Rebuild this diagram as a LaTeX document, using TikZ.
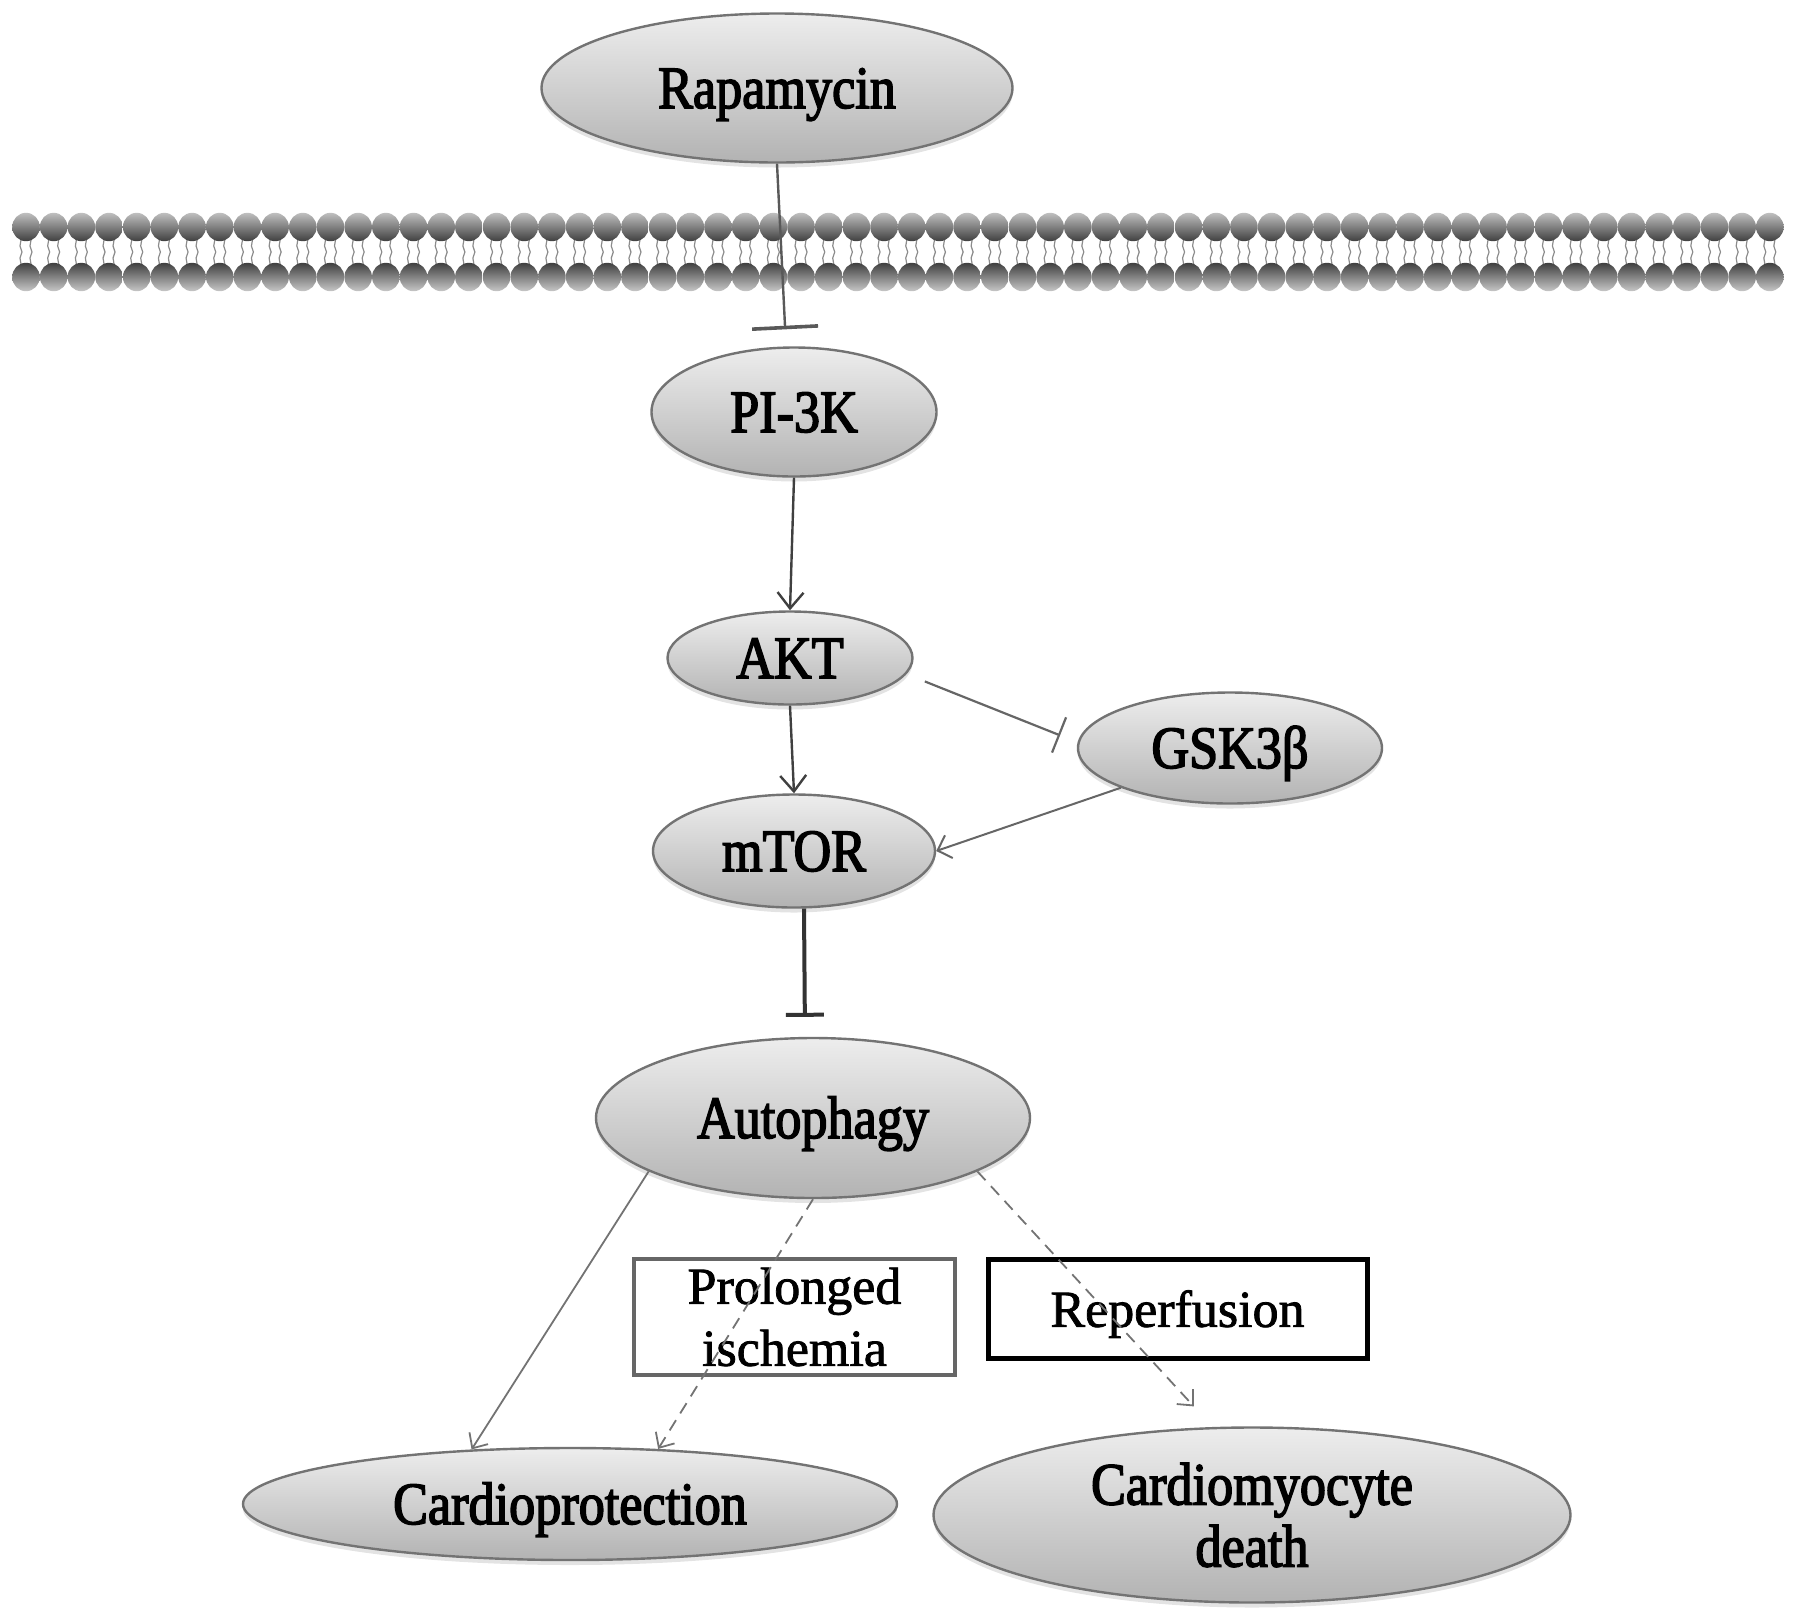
\documentclass[tikz,border=0pt]{standalone}
\usepackage{fontspec}
\setmainfont{Liberation Serif}[FakeBold=1.5]
\newfontfamily\nodefont{Liberation Serif}[FakeStretch=0.87, FakeBold=2.5]
\usetikzlibrary{positioning, calc, arrows.meta, shapes.geometric, shadows}

\tikzset{
	molecule/.style={ellipse, draw=black!55, line width=1.2pt, top color=black!7, bottom color=black!30,
		inner sep=0pt, align=center, text height=20pt, text depth=0pt,
		font=\nodefont\fontsize{30pt}{31pt}\selectfont,
		drop shadow={shadow xshift=0pt, shadow yshift=-2.5pt, opacity=0.22}},
	condition/.style={rectangle, inner sep=0pt, align=center, font=\fontsize{26pt}{31pt}\selectfont},
	activate/.style={draw=black!75, line width=1.2pt, -{Straight Barb[length=8pt, width=13pt]}},
	inhibit/.style={draw=black!65, line width=1.2pt, -{Bar[width=#1]}},
	lead/.style={draw=black!55, line width=0.9pt, -{Straight Barb[length=6pt, width=11pt]}},
	maylead/.style={lead, dash pattern=on 6pt off 4pt}
}

\begin{document}
\begin{tikzpicture}[x=0.5pt, y=-0.5pt]
		\useasboundingbox (0,0) rectangle (1795,1619);
		\foreach \i in {0,...,63} {
			\pgfmathsetmacro{\hx}{26+27.68*\i}
			\draw[black!45, line width=0.6pt] (\hx-5,240) -- (\hx-6,246) -- (\hx-4,252) -- (\hx-6,258) -- (\hx-5,264);
			\draw[black!45, line width=0.6pt] (\hx+5,240) -- (\hx+4,246) -- (\hx+6,252) -- (\hx+4,258) -- (\hx+5,264);
			\shade[top color=black!25, bottom color=black!75] (\hx,227) ellipse [x radius=6.9pt, y radius=7.1pt];
			\shade[top color=black!75, bottom color=black!22] (\hx,277) ellipse [x radius=6.9pt, y radius=7.1pt];
		}
		\node[molecule, minimum width=235.5pt, minimum height=74.5pt] (rapa) at (777,88) {Rapamycin};
		\node[molecule, minimum width=142.5pt, minimum height=64.5pt] (pi3k) at (794,412) {PI-3K};
		\node[molecule, minimum width=122.5pt, minimum height=46.5pt] (akt) at (790,658) {AKT};
		\node[molecule, minimum width=152pt, minimum height=55.5pt] (gsk) at (1230,748) {GSK3β};
		\node[molecule, minimum width=141pt, minimum height=56.5pt] (mtor) at (794,851) {mTOR};
		\node[molecule, minimum width=217pt, minimum height=80pt] (auto) at (813,1118) {Autophagy};
		\node[molecule, minimum width=327pt, minimum height=56pt] (cardio) at (570,1504) {Cardioprotection};
		\node[molecule, minimum width=318.5pt, minimum height=87.5pt, text height={}, text depth={}] (death) at (1252,1515) {Cardiomyocyte\\death};
		\node[condition, draw=black!60, line width=2pt, minimum width=160.5pt, minimum height=58pt] (ischemia) at (794.5,1317) {Prolonged\\ischemia};
		\node[condition, draw=black, line width=2.5pt, minimum width=189.5pt, minimum height=49.5pt, text depth=0pt] (reperf) at (1177.5,1308.5) {Reperfusion};
		\draw[inhibit={33pt, line width=1.8pt}, shorten >=8.5pt] (rapa.south) -- ([shift={(-8,0)}]pi3k.north);
		\draw[activate] (pi3k.south) -- (akt.north);
		\draw[activate] (akt.south) -- (mtor.north);
		\draw[inhibit=19pt, draw=black!60, line width=1.1pt, shorten <=6pt, shorten >=9pt] ([shift={(0,19)}]akt.east) -- ([shift={(0,-6)}]gsk.west);
		\draw[activate, draw=black!60, line width=1pt, -{Straight Barb[length=6pt, width=12pt]}] (gsk.200) -- (mtor.east);
		\draw[inhibit={19pt, line width=2pt}, draw=black!80, line width=2pt, shorten >=10pt] ([shift={(10,0)}]mtor.south) -- ([shift={(-8,0)}]auto.north);
		\draw[lead] (auto.198) -- (cardio.151);
		\draw[maylead] (auto.south) -- (cardio.32);
		\draw[maylead, shorten >=14pt] (auto.-18) -- (death.114);
\end{tikzpicture}
\end{document}
